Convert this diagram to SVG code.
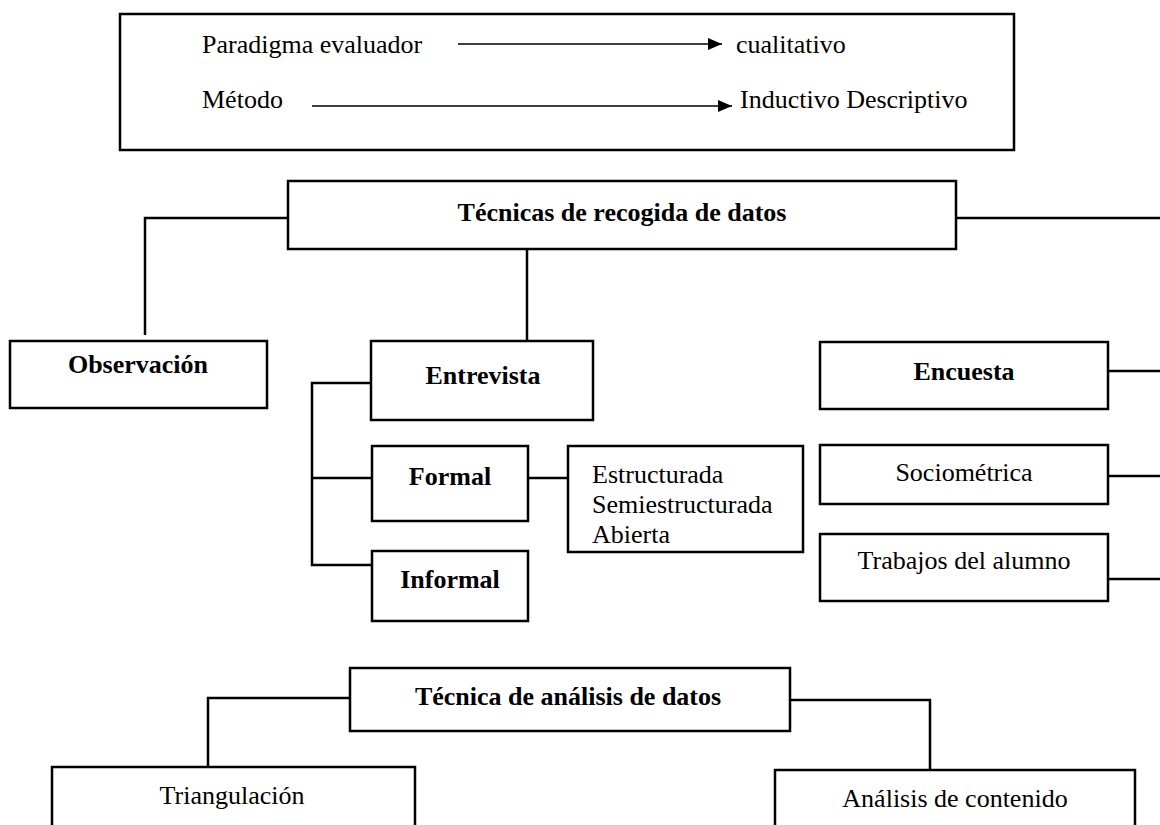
<svg xmlns="http://www.w3.org/2000/svg" width="1160" height="825" viewBox="0 0 1160 825">
<style>
.box{fill:#fff;stroke:#000;stroke-width:2.5}
.ln{fill:none;stroke:#000;stroke-width:2.5}
.thin{fill:none;stroke:#000;stroke-width:1.5}
text{font-family:"Liberation Serif","Times New Roman",serif;font-size:26px;fill:#000}
.b{font-weight:bold}
.c{text-anchor:middle}
</style>
<defs>
<marker id="ah" viewBox="0 0 14 12" refX="14" refY="6" markerWidth="14" markerHeight="12" markerUnits="userSpaceOnUse" orient="auto">
<path d="M0,0 L14,6 L0,12 Z" fill="#000"/>
</marker>
</defs>
<g id="header">
<rect class="box" x="120" y="14" width="894" height="136"/>
<text x="202" y="53">Paradigma evaluador</text>
<text x="736" y="53">cualitativo</text>
<text x="202" y="108">Método</text>
<text x="740" y="108">Inductivo Descriptivo</text>
</g>
<g id="connectors">
<line class="thin" x1="458" y1="44" x2="722" y2="44" marker-end="url(#ah)"/>
<line class="thin" x1="312" y1="106" x2="732" y2="106" marker-end="url(#ah)"/>
<polyline class="ln" points="288,218 145,218 145,335"/>
<line class="ln" x1="527" y1="249" x2="527" y2="341"/>
<line class="ln" x1="956" y1="218" x2="1160" y2="218"/>
<polyline class="ln" points="371,383 312,383 312,565 372,565"/>
<line class="ln" x1="312" y1="478" x2="372" y2="478"/>
<line class="ln" x1="528" y1="478" x2="568" y2="478"/>
<line class="ln" x1="1108" y1="371" x2="1160" y2="371"/>
<line class="ln" x1="1108" y1="476" x2="1160" y2="476"/>
<line class="ln" x1="1108" y1="579" x2="1160" y2="579"/>
<polyline class="ln" points="350,698 208,698 208,767"/>
<polyline class="ln" points="790,700 930,700 930,770"/>
</g>
<g id="tecnicas"><rect class="box" x="288" y="181" width="668" height="68"/><text class="b c" x="622" y="221">Técnicas de recogida de datos</text></g>
<g id="observacion"><rect class="box" x="10" y="341" width="257" height="67"/><text class="b c" x="138" y="373">Observación</text></g>
<g id="entrevista"><rect class="box" x="371" y="341" width="222" height="79"/><text class="b c" x="483" y="384">Entrevista</text></g>
<g id="encuesta"><rect class="box" x="820" y="342" width="288" height="67"/><text class="b c" x="964" y="380">Encuesta</text></g>
<g id="formal"><rect class="box" x="372" y="446" width="156" height="75"/><text class="b c" x="450" y="485">Formal</text></g>
<g id="tipos"><rect class="box" x="568" y="446" width="235" height="106"/>
<text x="592" y="483">Estructurada</text><text x="592" y="513">Semiestructurada</text><text x="592" y="543">Abierta</text></g>
<g id="informal"><rect class="box" x="372" y="551" width="156" height="70"/><text class="b c" x="450" y="588">Informal</text></g>
<g id="sociometrica"><rect class="box" x="820" y="445" width="288" height="59"/><text class="c" x="964" y="481">Sociométrica</text></g>
<g id="trabajos"><rect class="box" x="820" y="534" width="288" height="67"/><text class="c" x="964" y="569">Trabajos del alumno</text></g>
<g id="analisis"><rect class="box" x="350" y="668" width="440" height="63"/><text class="b c" x="568" y="705">Técnica de análisis de datos</text></g>
<g id="triangulacion"><rect class="box" x="52" y="767" width="363" height="70"/><text class="c" x="232" y="804">Triangulación</text></g>
<g id="contenido"><rect class="box" x="775" y="770" width="360" height="70"/><text class="c" x="955" y="807">Análisis de contenido</text></g>
</svg>
